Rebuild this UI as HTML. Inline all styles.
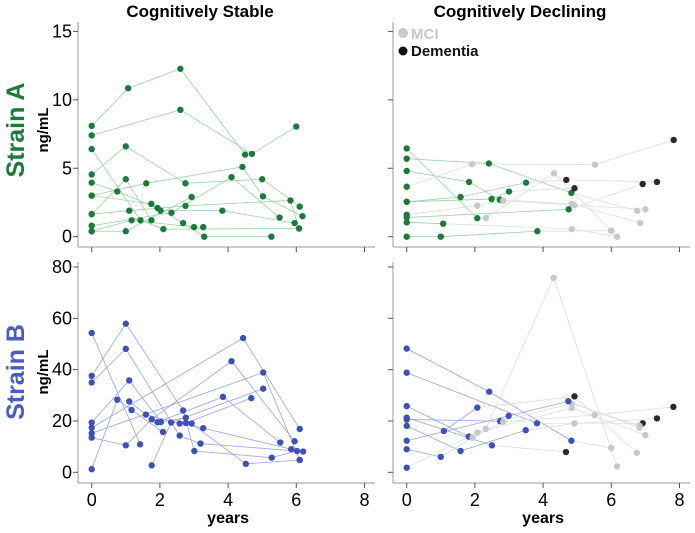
<!DOCTYPE html>
<html><head><meta charset="utf-8"><style>
body{margin:0;background:#fff}
svg text{font-family:"Liberation Sans",sans-serif}
</style></head><body>
<svg id="chart" width="695" height="528" viewBox="0 0 695 528" xmlns="http://www.w3.org/2000/svg">
<text x="200" y="17" text-anchor="middle" font-size="17" font-weight="bold">Cognitively Stable</text>
<text x="520" y="17" text-anchor="middle" font-size="17" font-weight="bold">Cognitively Declining</text>
<text transform="translate(24,130) rotate(-90)" text-anchor="middle" font-size="25" font-weight="bold" fill="#1e7a3c">Strain A</text>
<text transform="translate(48,130) rotate(-90)" text-anchor="middle" font-size="15" font-weight="bold">ng/mL</text>
<text transform="translate(24,372) rotate(-90)" text-anchor="middle" font-size="25" font-weight="bold" fill="#4a5cc0">Strain B</text>
<text transform="translate(48,372) rotate(-90)" text-anchor="middle" font-size="15" font-weight="bold">ng/mL</text>
<g>
<circle cx="403" cy="33" r="5" fill="#c8c8c8"/>
<text x="411" y="39" font-size="15" font-weight="bold" fill="#c8c8c8">MCI</text>
<circle cx="403" cy="51" r="4.5" fill="#111"/>
<text x="411" y="56" font-size="15" font-weight="bold" fill="#111">Dementia</text>
</g>
</svg>
<script>
// [years, value, status] s=stable color, m=MCI, d=dementia
const stableA = [
 [[0,8.1,'s'],[1.07,10.85,'s'],[2.6,12.27,'s'],[4.5,6.0,'s']],
 [[0,7.4,'s'],[2.6,9.27,'s'],[4.7,6.05,'s'],[6.0,8.05,'s']],
 [[0,6.4,'s'],[1.43,1.2,'s'],[2.1,0.55,'s'],[6.08,0.6,'s']],
 [[0,4.55,'s'],[1.0,6.6,'s'],[2.75,3.9,'s'],[5.0,4.2,'s'],[6.1,2.2,'s']],
 [[0,3.95,'s'],[0.75,3.3,'s'],[1.93,2.1,'s'],[2.68,1.0,'s'],[3.3,0,'s'],[5.27,0,'s']],
 [[0,3.0,'s'],[1.75,2.4,'s'],[2.02,1.9,'s'],[3.83,1.9,'s'],[5.95,1.0,'s']],
 [[0,3.0,'s'],[1.6,3.9,'s'],[4.42,5.1,'s'],[5.02,2.95,'s'],[6.18,1.5,'s']],
 [[0,1.65,'s'],[1.0,4.2,'s'],[1.75,1.2,'s']],
 [[0,1.65,'s'],[1.1,1.9,'s'],[2.75,2.25,'s'],[5.83,2.65,'s'],[6.08,0.6,'s']],
 [[0,0.8,'s'],[2.34,1.75,'s'],[4.1,4.35,'s'],[5.51,1.4,'s']],
 [[0,0.4,'s'],[1.0,0.4,'s'],[2.93,2.9,'s']],
 [[0,0.4,'s'],[1.17,1.2,'s'],[3.0,0.7,'s'],[3.27,0.7,'s']]
];
const decliningA = [
 [[0,6.45,'s'],[2.07,1.35,'s'],[2.32,1.37,'m'],[4.32,4.63,'m'],[6.0,0.44,'m']],
 [[0,5.7,'s'],[2.41,5.35,'s'],[4.83,3.2,'s'],[6.76,1.9,'m']],
 [[0,4.8,'s'],[1.83,4.0,'s'],[2.73,2.7,'s'],[4.84,2.4,'m'],[6.85,1.0,'m']],
 [[0,3.65,'s'],[1.92,5.3,'m'],[5.52,5.27,'m'],[7.83,7.07,'d']],
 [[0,2.55,'s'],[1.58,2.9,'s'],[3.5,3.95,'s'],[4.68,4.15,'d'],[7.34,4.0,'d']],
 [[0,2.55,'s'],[2.49,2.75,'s'],[3.0,3.3,'s'],[4.92,3.54,'d']],
 [[0,1.6,'s'],[2.07,2.27,'m'],[2.83,2.63,'m'],[4.92,2.3,'m'],[7.0,2.0,'m']],
 [[0,1.4,'s'],[4.75,2.0,'s'],[6.92,3.85,'d']],
 [[0,1.05,'s'],[1.07,0.95,'s'],[4.84,0.56,'m'],[6.17,0,'m']],
 [[0,0,'s'],[1.0,0,'s'],[3.83,0.4,'s'],[6.0,0.44,'m']]
];
const stableB = [
 [[0,54.3,'s'],[1.42,10.9,'s']],
 [[0,37.6,'s'],[1.0,57.9,'s'],[2.68,24.1,'s'],[3.01,8.3,'s'],[5.28,5.7,'s'],[6.02,8.3,'s']],
 [[0,35,'s'],[1.0,48.1,'s'],[2.58,14.3,'s'],[3.19,11.2,'s'],[6.2,8.1,'s']],
 [[0,19.4,'s'],[1.1,35.8,'s'],[2.03,19.6,'s'],[2.76,21.3,'s']],
 [[0,17.4,'s'],[4.44,52.3,'s'],[6.1,16.9,'s']],
 [[0,15.2,'s'],[5.03,38.9,'s'],[6.1,4.8,'s']],
 [[0,13.5,'s'],[1.0,10.5,'s'],[1.76,20.7,'s'],[4.1,43.3,'s'],[5.95,12.1,'s']],
 [[0,1.2,'s'],[0.75,28.3,'s'],[1.17,24.3,'s'],[2.09,15.7,'s']],
 [[1.76,2.7,'s'],[2.33,19.4,'s'],[5.03,32.6,'s']],
 [[1.1,27.6,'s'],[1.59,22.5,'s'],[2.58,19.0,'s'],[3.27,17.2,'s'],[5.85,9.0,'s']],
 [[1.93,19.5,'s'],[3.85,29.4,'s'],[5.53,11.6,'s']],
 [[2.93,19.0,'s'],[4.52,3.3,'s'],[6.1,4.8,'s']],
 [[2.76,19.2,'s'],[4.68,28.9,'s']]
];
const decliningB = [
 [[0,48.2,'s'],[2.42,31.4,'s'],[4.83,12.3,'s'],[6.0,9.5,'m']],
 [[0,38.8,'s'],[3.82,19.1,'s'],[6.92,19.1,'d']],
 [[0,25.8,'s'],[1.82,13.9,'s'],[2.32,16.9,'m'],[4.31,75.8,'m'],[6.17,2.3,'m']],
 [[0,21.3,'s'],[2.5,10.5,'s'],[4.67,7.9,'d']],
 [[0,20.6,'s'],[2.74,19.9,'s'],[4.84,26.8,'m'],[6.83,18.1,'m']],
 [[0,18.1,'s'],[1.58,8.3,'s'],[3.49,16.4,'s'],[4.92,19.0,'m'],[7.34,21.0,'d']],
 [[0,12.3,'s'],[2.99,22.0,'s'],[4.74,27.7,'s'],[6.83,17.4,'m']],
 [[0,9.0,'s'],[1.0,6.0,'s'],[1.93,13.5,'m'],[2.83,19.7,'m'],[5.51,22.3,'m'],[7.82,25.5,'d']],
 [[0,1.8,'s'],[2.07,15.5,'m'],[4.84,25.1,'m'],[7.0,14.5,'m']],
 [[1.09,16.1,'s'],[2.07,25.2,'s'],[4.92,29.6,'d'],[6.75,7.6,'m']]
];
const xTicks = [0,2,4,6,8];
const yTicksA = [0,5,10,15];
const yTicksB = [0,20,40,60,80];

const NS='http://www.w3.org/2000/svg';
const svg=document.getElementById('chart');
function mk(tag,attrs,parent){const e=document.createElementNS(NS,tag);for(const k in attrs)e.setAttribute(k,attrs[k]);(parent||svg).appendChild(e);return e;}

const panels=[
 {id:'stable-a',data:stableA,x0:91.7,y0:236.7,axX:78,top:22,bot:247,yMax:15,yt:yTicksA,col:'#1e7a3c',lcol:'#9fd0aa',labels:true,xlabels:false},
 {id:'declining-a',data:decliningA,x0:406.7,y0:236.7,axX:393,top:22,bot:247,yMax:15,yt:yTicksA,col:'#1e7a3c',lcol:'#9fd0aa',labels:false,xlabels:false},
 {id:'stable-b',data:stableB,x0:91.7,y0:472.3,axX:78,top:262,bot:483,yMax:80,yt:yTicksB,col:'#3f51b5',lcol:'#9aa3e0',labels:true,xlabels:true},
 {id:'declining-b',data:decliningB,x0:406.7,y0:472.3,axX:393,top:262,bot:483,yMax:80,yt:yTicksB,col:'#3f51b5',lcol:'#9aa3e0',labels:false,xlabels:true}
];
const xPer=34.1, yRange=205.3;
const stat={m:'#c8c8c8',d:'#2a2a2a'};
panels.forEach(p=>{
 const g=mk('g',{});
 
 
 const sx=v=>p.x0+v*xPer;
 const sy=v=>p.y0-v/p.yMax*yRange;
 const ya=mk('line',{x1:p.axX,x2:p.axX,y1:p.top,y2:p.bot,stroke:'#999','stroke-width':1},g);
 
 
 const xa=mk('line',{x1:p.axX,x2:p.axX+297,y1:p.bot,y2:p.bot,stroke:'#999','stroke-width':1},g);
 
 
 p.yt.forEach(t=>{
  mk('line',{x1:p.axX-5,x2:p.axX,y1:sy(t),y2:sy(t),stroke:'#555'},g);
  if(p.labels){const tx=mk('text',{x:p.axX-6,y:sy(t)+6,'text-anchor':'end','font-size':18},g);tx.textContent=t;
   
   }
 });
 xTicks.forEach(t=>{
  mk('line',{x1:sx(t),x2:sx(t),y1:p.bot,y2:p.bot+5,stroke:'#555'},g);
  if(p.xlabels){const tx=mk('text',{x:sx(t),y:p.bot+23,'text-anchor':'middle','font-size':18},g);tx.textContent=t;
   
   }
 });
 if(p.xlabels){const yl=mk('text',{x:sx(4),y:523,'text-anchor':'middle','font-size':16,'font-weight':'bold'},g);yl.textContent='years';
  
  }
 p.data.forEach((s,si)=>{
  for(let i=1;i<s.length;i++){
   const a=s[i-1],b=s[i];
   const c=(b[2]==='s'&&a[2]==='s')?p.lcol:'#dedede';
   const ln=mk('line',{x1:sx(a[0]),y1:sy(a[1]),x2:sx(b[0]),y2:sy(b[1]),stroke:c,'stroke-width':0.8},g);
   
   
  }
 });
 p.data.forEach(s=>s.forEach(pt=>{
  const c=pt[2]==='s'?p.col:stat[pt[2]];
  const ci=mk('circle',{cx:sx(pt[0]),cy:sy(pt[1]),r:3.2,fill:c},g);
  
  
 }));
});
</script>
</body></html>
